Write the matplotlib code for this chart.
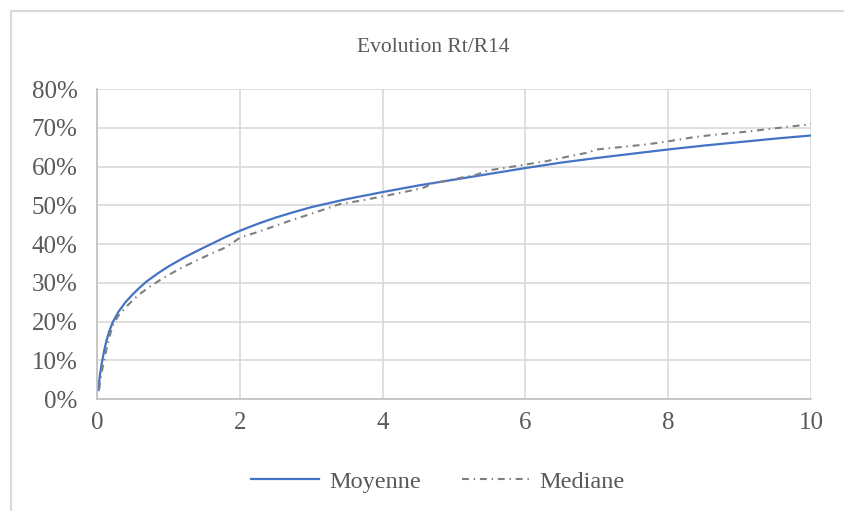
import matplotlib
matplotlib.use("Agg")
import matplotlib.pyplot as plt
from matplotlib.lines import Line2D
from matplotlib.ticker import FuncFormatter, MultipleLocator

# lecture du graphique : annees vs ratio Rt/R14 (%)
moy_x = [0.02, 0.03, 0.04, 0.06, 0.08, 0.1, 0.13, 0.17, 0.22, 0.3, 0.4, 0.5,
         0.6, 0.7, 0.85, 1.0, 1.2, 1.4, 1.6, 1.8, 2.0, 2.25, 2.5, 2.75, 3.0,
         3.5, 4.0, 4.5, 5.0, 5.5, 6.0, 6.5, 7.0, 7.5, 8.0, 8.5, 9.0, 9.5, 10.0]
moy_y = [2.3, 4.2, 6.0, 8.5, 10.5, 12.4, 14.9, 17.4, 19.8, 22.5, 25.0, 27.0,
         28.8, 30.4, 32.4, 34.2, 36.3, 38.2, 40.0, 41.8, 43.4, 45.2, 46.8, 48.2,
         49.5, 51.6, 53.4, 55.1, 56.6, 58.1, 59.6, 61.0, 62.2, 63.3, 64.4, 65.4,
         66.3, 67.2, 68.0]

med_x = [0.03, 0.04, 0.06, 0.08, 0.11, 0.14, 0.18, 0.23, 0.3, 0.4, 0.5, 0.6,
         0.74, 0.9, 1.05, 1.2, 1.4, 1.6, 1.8, 1.9, 2.0, 2.3, 2.7, 3.0, 3.4, 3.7,
         4.0, 4.3, 4.57, 4.7, 5.04, 5.3, 5.48, 5.7, 6.0, 6.3, 6.58, 6.85, 7.0,
         7.33, 7.7, 8.0, 8.3, 8.64, 9.0, 9.38, 9.7, 10.0]
med_y = [2.5, 4.0, 6.3, 8.3, 10.8, 13.5, 16.5, 19.4, 21.5, 23.6, 25.5, 27.1,
         29.0, 30.9, 32.5, 34.0, 35.8, 37.5, 39.1, 40.3, 41.6, 43.4, 46.0, 47.8,
         50.3, 51.2, 52.3, 53.4, 54.5, 55.6, 56.9, 57.8, 59.0, 59.6, 60.5, 61.4,
         62.5, 63.5, 64.4, 65.0, 65.7, 66.5, 67.4, 68.2, 68.8, 69.6, 70.3, 70.9]

titre = "Evolution Rt/R14"
noms = ["Moyenne", "Mediane"]

gris_txt = "#595959"
plt.rcParams["font.family"] = ["Liberation Serif", "DejaVu Serif"]

W, H = 845, 511
fig = plt.figure(figsize=(W / 100, H / 100), dpi=100)
ax = fig.add_axes([97 / W, 1 - 399 / H, (811 - 97) / W, (399 - 89) / H])

ax.plot(moy_x, moy_y, color="#4472c4", lw=1.6, solid_joinstyle="round")
ax.plot(med_x, med_y, color="#7f7f7f", lw=1.5, dashes=(3.3, 2.3, 0.7, 2.3))

ax.set_xlim(0, 10)
ax.set_ylim(0, 80)
ax.xaxis.set_major_locator(MultipleLocator(2))
ax.yaxis.set_major_locator(MultipleLocator(10))
ax.yaxis.set_major_formatter(FuncFormatter(lambda v, p: f"{v:.0f}%"))
ax.grid(True, color="#d9d9d9", lw=1.2)
ax.set_axisbelow(True)
for s in ["top", "right"]:
    ax.spines[s].set_visible(False)
for s in ["left", "bottom"]:
    ax.spines[s].set_color("#bfbfbf")
    ax.spines[s].set_linewidth(1.2)
ax.tick_params(length=0, labelsize=18, labelcolor=gris_txt)
ax.tick_params(axis="x", pad=9)
ax.tick_params(axis="y", pad=14)

fig.text(433 / W, 1 - 47 / H, titre, ha="center", va="center",
         fontsize=15.5, color=gris_txt)

# cadre exterieur du graphique
bord = "#d9d9d9"
fig.add_artist(Line2D([11.5 / W, 11.5 / W], [0, 1 - 11.5 / H], color=bord, lw=1.5,
                      transform=fig.transFigure))
fig.add_artist(Line2D([11.5 / W, 1], [1 - 11.5 / H, 1 - 11.5 / H], color=bord, lw=1.5,
                      transform=fig.transFigure))

h1 = Line2D([], [], color="#4472c4", lw=1.6)
h2 = Line2D([], [], color="#7f7f7f", lw=1.5, dashes=(3.3, 2.3, 0.7, 2.3))
fig.legend([h1, h2], noms, loc="center", bbox_to_anchor=(438 / W, 1 - 482 / H),
           ncol=2, frameon=False, fontsize=17.5, labelcolor=gris_txt,
           handlelength=2.8, handletextpad=0.4, columnspacing=1.7)

fig.savefig("out.png", dpi=100, facecolor="white")
